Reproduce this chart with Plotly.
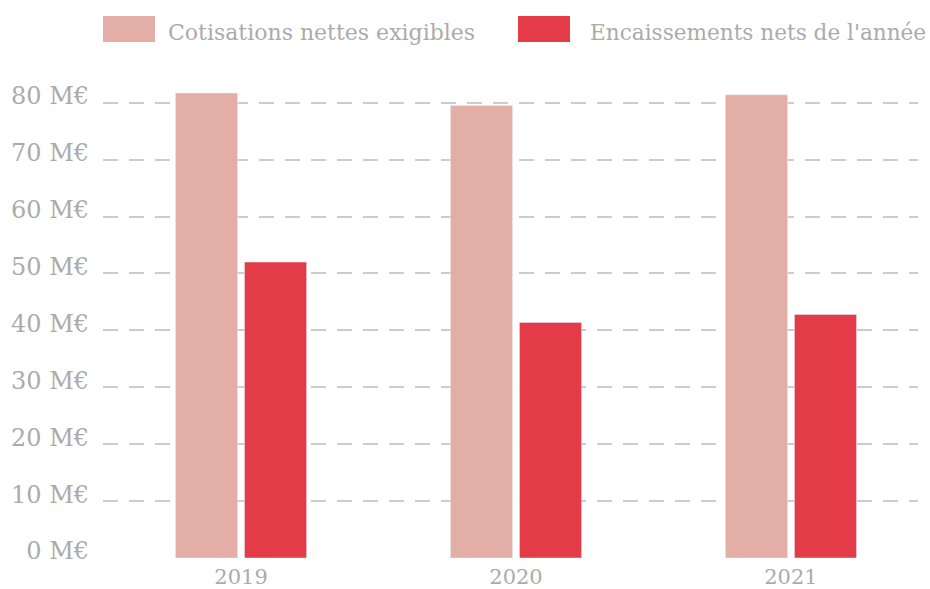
import plotly.graph_objects as go

years = ["2019", "2020", "2021"]
cotisations = [81.7, 79.5, 81.4]
encaissements = [52.0, 41.4, 42.8]
series_names = ["Cotisations nettes exigibles", "Encaissements nets de l'année"]
colors = ["#E2AEA5", "#E33C48"]
y_ticks = [0, 10, 20, 30, 40, 50, 60, 70, 80]
y_ticktext = [f"{v} M€" for v in y_ticks]

FONT = "DejaVu Serif"
GRAY = "#ababab"
PLOT_H = 477.6
PLOT_W = 815.0

fig = go.Figure()
fig.add_trace(go.Bar(x=years, y=cotisations, name=series_names[0], marker_color=colors[0], showlegend=False))
fig.add_trace(go.Bar(x=years, y=encaissements, name=series_names[1], marker_color=colors[1], showlegend=False))

# custom legend (big swatches)
legend_items = [(0.0, 63 / PLOT_W, series_names[0], colors[0], 22),
                (415 / PLOT_W, 485 / PLOT_W, series_names[1], colors[1], 21.6)]
for x0, xt, name, col, fs in legend_items:
    fig.add_shape(type="rect", xref="paper", yref="paper",
                  x0=x0, x1=x0 + 52 / PLOT_W, y0=1.0 + (80 - 42) / PLOT_H, y1=1.0 + (80 - 16) / PLOT_H,
                  fillcolor=col, line_width=0)
    fig.add_annotation(xref="paper", yref="paper", x=xt, y=1.0 + (80 - 33) / PLOT_H,
                       text=name, showarrow=False, xanchor="left", yanchor="middle",
                       font=dict(family=FONT, size=fs, color=GRAY))

fig.update_layout(
    width=930, height=589,
    margin=dict(l=103, r=12, t=80, b=31.4),
    paper_bgcolor="white", plot_bgcolor="white",
    barmode="group", bargap=0.498, bargroupgap=0.1,
    font=dict(family=FONT, color=GRAY),
)
fig.update_xaxes(range=[-0.502, 2.462], showgrid=False, zeroline=False, showline=False,
                 tickfont=dict(family=FONT, size=21, color=GRAY), ticks="", ticklabelstandoff=4,
                 automargin=False)
fig.update_yaxes(range=[0, 84], tickvals=y_ticks, ticktext=y_ticktext,
                 showgrid=True, gridcolor="#cccccc", gridwidth=2, griddash="15px,11px",
                 zeroline=True, zerolinecolor="rgba(0,0,0,0)", showline=False, ticks="",
                 tickfont=dict(family=FONT, size=24, color=GRAY), ticklabelstandoff=13,
                 ticklabelshift=-7, automargin=False)

fig.write_html("out.html", config={"displayModeBar": False},
               post_script="document.body.style.margin='0';document.body.style.overflow='hidden';")
